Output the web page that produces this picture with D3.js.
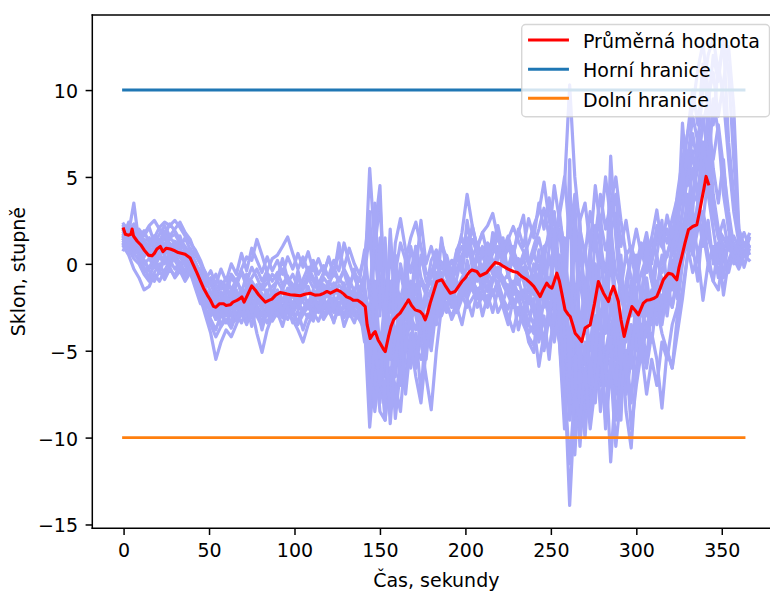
<!DOCTYPE html>
<html>
<head>
<meta charset="utf-8">
<script src="https://cdn.jsdelivr.net/npm/d3@7"></script>
<style>
  html, body { margin: 0; padding: 0; background: #ffffff; }
  svg { display: block; font-family: "DejaVu Sans", sans-serif; }
</style>
</head>
<body>
<div id="chart"></div>
<script>
// Tilt recordings: one value every 3 seconds for each run (degrees)
const sampleStep = 3;

const run01 = [
  1.9, 2.0, 1.4, 1.7, 1.3, 1.0, 1.5, 2.1, 2.4, 2.2,
  2.5, 2.1, 1.6, 1.2, 0.8, 0.2, -0.6, -1.2, -1.8, -1.3,
  -1.6, -0.8, -1.2, -0.4, -1.0, -0.2, -0.8, -1.5, -1.1, -0.6,
  -0.9, -0.3, -1.1, -0.6, -1.4, -0.9, -0.2, -0.8, -1.2, -0.5,
  -0.7, 0.2, -0.4, 1.2, 0.1, -0.8, -1.5, -0.6, 1.8, -2.5,
  -1.0, -3.5, 0.5, -1.2, -2.0, -0.8, -1.5, -2.2, -1.0, -1.8,
  -0.6, 0.4, 0.1, -0.5, -1.0, -0.3, 0.5, 0.9, 0.4, 1.1,
  0.6, 1.2, 0.8, 1.5, 0.9, 1.4, 2.15, 1.3, 0.7, 0.2,
  0.6, -0.4, 0.9, 1.5, 0.3, 2.0, -1.0, 3.5, -2.5, 1.0,
  -1.5, 0.8, 2.2, 1.0, -0.5, 1.8, 2.9, -0.8, -2.0, 0.5,
  -0.5, 0.6, 1.0, 0.2, 1.4, 2.0, 1.2, 2.6, 3.8, 5.2,
  7.5, 9.0, 11.2, 12.7, 10.0, 8.0, 11.5, 9.5, 6.0, 3.0,
  1.2, 0.6, 1.4
];
const run02 = [
  1.5, 1.2, 1.8, 1.3, 1.7, 2.2, 2.5, 2.0, 1.6, 2.3,
  1.9, 1.4, 1.0, 0.6, 0.1, -0.5, -1.2, -0.8, -1.5, -1.0,
  -1.4, -0.6, -1.0, -0.3, 0.4, 0.2, 1.4, 0.5, -0.5, -1.0,
  -0.5, -1.2, -0.7, -1.5, -0.9, -1.3, -0.6, -1.0, -1.6, -0.8,
  -1.2, -0.5, -1.0, -0.3, -0.9, -1.6, -0.8, -1.4, -3.0, 0.8,
  -2.5, -1.0, -2.8, 1.2, 2.6, 0.8, -0.5, 1.0, -0.8, -1.5,
  0.2, 0.8, -0.3, 0.5, -0.6, 0.3, 1.0, 0.5, 1.4, 0.6,
  0.9, 0.3, 1.2, 0.8, 0.2, 0.9, 0.4, -0.2, 0.5, 1.2,
  2.2, 3.0, 4.7, 2.5, 1.2, 3.0, 0.5, -2.0, 1.5, -1.0,
  -3.0, 0.5, 1.5, 2.5, 0.8, 1.9, -0.5, -1.5, 0.6, -0.8,
  -1.6, -0.5, 0.4, -1.0, -2.5, -4.0, -5.0, -6.0, -3.0, -1.5,
  0.5, 1.5, 3.5, 5.0, 7.0, 6.0, 8.0, 5.5, 3.0, 1.0,
  0.5
];
const run03 = [
  1.3, 1.8, 3.5, 1.2, 0.6, 1.0, 0.4, 0.9, 0.5, 1.2,
  0.8, 1.3, 0.9, 0.2, -0.4, -1.1, -1.8, -2.4, -2.0, -2.8,
  -2.2, -2.9, -2.5, -1.8, -2.4, -1.6, -2.0, -2.6, -1.9, -2.4,
  -2.0, -2.5, -1.9, -2.3, -1.6, -2.2, -2.6, -1.9, -2.3, -1.7,
  -1.9, -2.4, -1.8, -2.1, -2.6, -2.0, -2.5, -3.0, -5.5, -2.0,
  -6.0, -3.5, -5.0, -2.5, -3.2, -1.5, -2.5, -1.2, -2.0, -3.5,
  -1.5, -0.6, -1.2, -1.8, -0.8, 0.5, 1.8, 4.0, 2.2, 0.8,
  0.4, -0.2, 0.6, 1.0, 0.3, -0.4, 0.2, -0.6, -0.2, -1.0,
  -1.8, -0.5, -2.2, -0.8, -1.5, 0.5, -3.0, -6.0, -2.0, -7.5,
  -5.0, -8.0, -3.0, -6.5, -2.5, -5.0, -7.5, -4.0, -8.5, -10.6,
  -6.0, -3.5, -5.5, -2.5, -1.5, -3.0, -1.0, -2.5, -0.5, 1.5,
  3.0, 1.0, -1.0, 2.5, 0.5, -1.0, 1.0, -1.8, 0.2, 1.0,
  0.3, 1.2
];
const run04 = [
  1.6, 1.3, 1.1, 0.8, 0.2, -0.3, 0.2, 0.6, 0.1, 0.5,
  1.0, 0.4, 0.8, 0.5, -0.2, -0.8, -1.5, -1.8, -2.8, -2.0,
  -1.5, -2.0, -1.2, -0.5, -1.3, -0.8, -0.3, -1.0, -0.4, 0.3,
  0.5, 1.0, 1.55, 0.6, -0.3, 0.4, -0.5, 0.2, -0.6, -0.1,
  -0.8, -0.2, -1.0, -0.4, -1.2, -0.5, -1.0, 0.8, -2.0, 2.5,
  -1.5, 0.5, -2.0, -0.5, 1.2, 0.2, 1.5, 2.4, 1.0, -0.5,
  -0.8, 0.5, 0.0, -0.6, 0.2, -0.5, 0.4, 1.0, 0.2, -0.3,
  -0.5, 0.4, 0.9, 1.6, 0.5, -0.2, 0.8, 0.0, -0.6, -0.2,
  0.5, 1.5, 0.2, 2.0, 0.8, 2.8, 4.5, 10.3, 5.0, 2.0,
  0.5, 3.0, 1.5, 4.0, 2.0, 3.5, 5.0, 2.5, 0.5, 1.0,
  0.0, 1.2, -0.5, 0.6, 2.0, 1.0, 0.4, 1.8, 0.8, 3.0,
  5.5, 3.5, 4.0, 6.5, 4.5, 3.0, 2.0, 1.5, 0.8, 1.6,
  0.9, 1.8, 1.0
];
const run05 = [
  1.0, 0.5, -0.3, -0.8, -1.5, -1.3, -0.6, -1.0, -0.4, 0.2,
  -0.3, 0.1, -0.6, -0.2, -0.9, -1.8, -2.6, -3.2, -3.8, -2.9,
  -3.4, -2.8, -3.2, -2.5, -3.0, -2.2, -2.8, -3.3, -2.6, -2.9,
  -2.4, -3.0, -2.5, -2.9, -2.2, -2.7, -3.1, -2.4, -2.8, -2.3,
  -2.6, -2.0, -2.4, -2.9, -2.3, -2.8, -3.2, -2.5, -7.0, -4.0,
  -7.5, -5.5, -6.5, -4.5, -3.0, -4.2, -3.5, -4.8, -5.5, -4.0,
  -2.5, -1.5, -2.2, -1.0, -1.8, -0.8, 0.5, 1.2, 2.0, 1.0,
  1.8, 2.2, 2.9, 1.5, 0.6, 1.2, 0.0, -0.5, 0.3, -0.8,
  -1.5, -2.5, -1.0, -3.0, -2.0, -4.0, -6.5, -13.9, -8.0, -5.0,
  -7.0, -4.5, -3.0, -5.5, -2.5, -4.0, -2.0, -5.0, -3.5, -1.5,
  -3.0, -4.5, -2.0, -3.5, -1.0, -2.5, -0.5, -1.5, 0.5, 2.0,
  3.5, 4.0, 5.5, 7.0, 6.5, 5.0
];
const run06 = [
  1.2, 1.0, 0.7, 1.1, 0.9, 0.4, 0.8, 1.2, 0.7, 1.5,
  1.2, 0.5, 0.1, -0.4, -1.2, -2.0, -3.0, -4.0, -5.5, -4.5,
  -3.8, -4.2, -3.5, -2.8, -3.3, -2.5, -3.0, -3.6, -2.8, -3.2,
  -2.6, -3.1, -2.4, -2.9, -3.3, -2.6, -2.1, -2.8, -2.4, -3.0,
  -2.5, -2.1, -2.8, -2.4, -3.0, -2.6, -3.2, -3.8, -6.5, -5.0,
  -8.5, -9.0, -6.0, -8.0, -5.5, -6.5, -4.0, -5.0, -3.5, -4.5,
  -3.0, -2.0, -2.8, -1.5, -2.5, -2.0, -1.2, -1.8, -1.0, -1.5,
  -1.2, -0.5, -1.0, -0.3, -0.8, -1.5, -1.0, -1.8, -3.0, -4.5,
  -5.1, -3.5, -4.5, -2.5, -3.5, -2.0, -5.5, -8.5, -6.0, -9.0,
  -7.5, -6.0, -4.0, -7.0, -5.0, -3.5, -6.5, -8.0, -5.5, -4.0,
  -5.0, -3.5, -4.2, -2.5, -3.0, -1.8, -2.2, -1.0, -0.5, 1.0,
  2.5, 4.0, 6.0, 8.0, 9.5, 11.0, 8.5, 10.5, 12.5, 9.0,
  2.0, 1.0, 1.5
];
const run07 = [
  1.7, 1.5, 1.2, 0.5, 0.0, 0.3, -0.2, 0.4, 0.0, 0.6,
  0.2, -0.3, 0.4, 0.0, -0.8, -1.5, -2.2, -2.8, -2.3, -3.0,
  -2.5, -3.0, -2.2, -2.8, -3.5, -2.6, -4.0, -5.1, -3.8, -3.0,
  -2.2, -1.5, -2.0, -1.3, -1.8, -1.2, -0.8, -1.4, -1.0, -1.6,
  -1.0, -1.4, -0.8, -1.3, -1.8, -2.5, -2.0, -2.8, -4.0, -6.0,
  -5.5, -7.5, -4.0, -8.9, -6.0, -4.5, -3.0, -3.8, -2.5, -3.5,
  -2.0, -0.5, -1.5, -2.5, -3.0, -2.2, -1.5, -0.8, -1.5, -2.0,
  -1.5, -2.2, -1.0, -0.5, -1.2, -1.8, -2.5, -2.0, -1.5, -2.8,
  -3.5, -2.0, -1.0, 0.5, -1.5, 0.0, -4.0, -5.5, -8.0, -4.0,
  -2.5, -5.0, -1.5, 0.5, -2.5, 6.2, 1.5, -2.0, -3.0, -1.0,
  -2.0, -3.0, -1.5, -2.5, -3.5, -2.0, -1.0, 0.0, -1.2, 0.8,
  1.5, 0.5, 2.0, 3.0, 1.5, 0.5, -0.5, 0.8, 1.5, 0.2
];
const run08 = [
  2.2, 1.9, 2.3, 1.8, 1.3, 1.5, 0.9, 1.4, 1.0, 0.7,
  1.1, 0.8, 0.3, 0.7, 0.1, -0.6, -1.3, -1.0, -2.0, -1.6,
  -2.3, -1.8, -2.6, -2.0, -1.6, -2.4, -1.9, -2.5, -2.2, -1.7,
  -2.5, -2.0, -2.8, -3.2, -3.8, -4.5, -3.5, -2.8, -3.3, -2.6,
  -2.2, -2.8, -2.3, -2.0, -2.5, -3.0, -2.6, -3.5, -5.0, -8.0,
  -4.0, -6.5, -3.5, -5.0, -2.5, -3.8, -2.0, -3.0, -4.5, -6.5,
  -8.4, -5.0, -2.5, -1.8, -2.5, -1.2, -2.0, -1.5, -0.8, -1.8,
  -1.0, -1.6, -0.8, -0.2, -1.0, -0.6, -1.4, -0.9, -2.0, -1.5,
  -2.5, -3.5, -2.0, -1.5, -2.8, -1.0, -3.5, -6.0, -4.5, -10.5,
  -6.5, -8.5, -5.0, -3.0, -6.0, -4.5, -3.0, -5.5, -7.0, -4.5,
  -3.5, -2.0, -3.0, -1.5, -2.5, -0.8, -1.5, 0.2, -0.8, 0.5,
  1.0, -0.5, 0.5, -2.1, 0.0, -1.0, -1.5, 0.5, 1.0, 0.3,
  -0.3, 0.5, 0.2
];
const run09 = [
  2.0, 1.7, 2.2, 1.5, 1.9, 1.2, 1.6, 1.1, 1.5, 0.9,
  1.3, 0.9, 1.5, 0.8, 0.5, 0.0, -0.5, -1.2, -0.6, -1.4,
  -0.8, -1.5, -0.9, -1.6, -2.2, -1.5, -2.0, -1.2, -1.8, -2.3,
  -1.6, -2.1, -1.4, -1.9, -1.2, -1.8, -2.3, -1.5, -2.0, -1.2,
  -1.8, -1.1, -1.6, -2.2, -1.4, -2.0, -1.5, -1.0, 5.5, 1.0,
  3.5, -2.0, 0.5, -1.5, -0.5, -2.0, -1.0, -1.8, 0.5, -1.0,
  -0.5, 0.2, -0.8, -1.2, -0.5, -1.5, -0.8, -0.2, -0.6, 0.3,
  -0.2, 0.5, -0.4, 0.8, 0.2, -0.5, 0.4, -0.3, 0.6, 0.0,
  1.0, 2.0, 3.2, 1.5, 4.5, 2.5, 1.0, -3.0, 3.5, -1.5,
  1.0, -2.5, 0.0, -3.5, -1.0, 1.5, -2.0, -4.0, -1.0, 0.5,
  -1.0, 0.8, -0.5, 1.5, 0.3, -0.5, 0.6, 1.5, 2.5, 4.0,
  6.0, 8.5, 7.0, 10.0, 12.0, 13.0, 11.0, 12.8, 7.0, 4.0,
  1.8, 0.4, 1.0
];
const run10 = [
  1.4, 1.1, 0.6, 0.2, -0.5, -0.2, 0.3, -0.3, 0.5, 0.1,
  0.6, 0.0, -0.4, 0.2, -0.6, -1.3, -2.0, -2.6, -3.2, -2.6,
  -3.0, -2.4, -2.9, -2.2, -2.7, -2.0, -2.5, -3.0, -2.4, -2.8,
  -2.0, -2.6, -2.1, -2.7, -2.3, -2.9, -2.4, -2.0, -2.6, -2.2,
  -2.8, -2.3, -2.9, -2.5, -2.0, -2.7, -3.0, -2.5, -3.5, 2.0,
  4.5, -3.0, -1.0, -4.5, -2.0, -3.2, -1.8, -2.5, -3.5, -2.0,
  -1.5, -0.8, 0.0, -0.8, -1.5, -2.2, -1.5, -2.0, -1.2, -2.5,
  -1.8, -2.5, -1.5, -2.8, -2.2, -3.0, -3.9, -2.5, -3.2, -2.0,
  -2.8, -4.0, -2.0, -3.0, -1.5, -2.5, -1.0, -4.5, -2.5, -7.0,
  -4.5, -6.5, -3.5, -8.5, -5.5, -11.4, -7.0, -5.0, -6.5, -3.5,
  -4.5, -2.5, -3.8, -2.0, -3.0, -2.5, -1.5, -0.5, 1.5, 8.1,
  4.5, 6.5, 3.5, 5.5, 8.0, 4.0, 2.0, 1.0
];
const run11 = [
  1.8, 1.4, 1.0, 1.3, 0.8, 1.2, 1.6, 1.3, 1.9, 1.5,
  1.7, 1.2, 0.8, 0.4, -0.2, -0.9, -1.6, -2.3, -3.0, -2.5,
  -2.0, -2.6, -1.8, -2.3, -1.7, -1.0, -1.5, -2.2, -1.6, -1.3,
  -1.0, -1.5, -0.8, -1.2, -1.6, -1.1, -1.5, -2.0, -1.4, -1.9,
  -1.3, -1.8, -1.2, -1.6, -2.2, -1.8, -2.5, -3.5, -9.4, -6.0,
  -8.0, -5.0, -7.5, -5.5, -4.0, -2.5, -3.5, -2.0, -3.0, -1.5,
  -1.0, -2.0, -0.8, -1.5, -2.2, -2.8, -2.0, -1.2, -0.5, -1.0,
  -0.5, 0.2, -0.6, -0.2, -1.0, -1.5, -2.2, -2.8, -3.5, -4.2,
  -4.7, -3.0, -4.5, -2.5, -4.0, -2.0, -3.5, -9.0, -6.5, -4.0,
  -8.5, -5.5, -7.0, -4.0, -9.5, -6.0, -3.5, -7.5, -5.0, -8.0,
  -4.0, -2.0, 0.5, 1.5, 3.1, 1.0, 2.0, 0.5, 1.5, 3.0,
  5.0, 7.5, 5.5, 8.5, 6.0, 3.0, 1.5, 0.5, -0.5, 0.8,
  0.0, 1.2, 0.6
];
const run12 = [
  1.1, 0.8, 0.3, 0.0, -0.6, -1.0, -0.5, 0.0, -0.6, -0.2,
  -0.8, -0.4, -1.0, -0.5, -1.2, -2.0, -2.8, -3.5, -4.2, -3.6,
  -3.2, -3.7, -2.9, -3.4, -2.6, -3.1, -2.4, -2.9, -3.4, -2.7,
  -3.0, -2.5, -3.2, -2.6, -3.5, -2.9, -2.4, -3.0, -2.5, -3.2,
  -2.7, -3.3, -2.6, -3.1, -2.5, -3.0, -2.6, -3.2, -5.0, -7.5,
  -5.5, -9.0, -6.0, -7.0, -8.5, -5.0, -4.5, -6.0, -4.0, -5.0,
  -3.0, -2.0, -3.0, -2.2, -3.2, -2.5, -1.8, -2.5, -2.0, -1.5,
  -2.0, -1.2, -1.8, -1.0, -2.0, -2.6, -1.5, -2.0, -3.0, -4.0,
  -3.5, -5.9, -4.0, -5.0, -3.0, -4.5, -8.0, -5.0, -11.0, -6.0,
  -9.0, -7.0, -5.0, -8.0, -6.5, -4.5, -9.0, -6.0, -7.5, -5.5,
  -6.5, -4.5, -6.0, -4.0, -5.5, -8.3, -5.0, -6.0, -4.0, -2.0,
  0.5, 3.0, 2.0, 5.5, 4.0, 2.0, 0.0
];
const run13 = [
  1.6, 2.4, 1.1, 1.5, 0.4, 0.9, 1.3, 0.7, 1.8, 1.0,
  0.3, 1.0, 0.2, -0.3, -1.0, -1.6, -2.5, -1.8, -3.2, -2.2,
  -1.2, -2.0, -0.9, -1.7, -0.6, -1.4, -2.3, -1.3, -0.7, -1.9,
  -0.8, 0.3, -0.9, -1.8, -0.4, -1.5, -0.9, 0.0, -1.3, -0.6,
  0.4, -0.7, 1.2, -0.5, -1.5, -0.3, -2.0, -1.0, -6.5, 3.5,
  -3.0, 1.5, -4.5, -1.0, -6.0, 0.5, -2.5, 1.0, -4.0, -1.5,
  -4.5, -2.0, 1.5, -0.5, -1.2, 0.8, -0.4, 2.5, 0.5, -0.8,
  1.0, -0.5, 1.8, 0.2, 1.5, -0.8, 0.5, 1.8, 2.8, 0.0,
  -1.0, 0.8, -2.5, 1.0, 3.0, -0.5, -5.5, 6.0, -9.5, 2.5,
  -4.0, 1.0, -6.5, 2.0, -3.0, 3.5, -5.5, 0.5, -4.5, -2.0,
  0.5, -2.5, 1.5, -1.0, 0.5, 2.5, -2.0, 1.0, 3.0, 4.5,
  6.5, 3.0, 7.5, 5.0, 9.0, 5.5, 3.5, 6.0, 2.0, 0.0,
  1.5, -0.2, 0.8
];
const run14 = [
  2.1, 1.6, 1.9, 1.0, 1.4, 0.6, 0.1, 0.7, 1.2, 0.4,
  0.9, 1.6, 0.7, 0.9, 0.0, -0.4, -1.0, -1.6, -2.1, -1.7,
  -2.6, -1.6, -2.3, -1.4, -2.0, -1.1, -2.2, -1.7, -2.7, -1.5,
  -2.2, -1.4, -2.5, -1.7, -2.6, -2.0, -1.3, -2.4, -1.6, -2.6,
  -2.1, -1.2, -1.9, -1.1, -2.3, -1.4, -2.8, -1.5, -4.5, -8.5,
  -6.0, -3.0, -8.0, -4.0, -7.0, -3.5, -6.0, -4.0, -7.5, -3.5,
  -5.0, -2.5, -0.5, -2.0, -0.8, -2.5, -1.6, 0.2, -1.0, 0.8,
  -1.2, 0.5, -0.3, -1.5, 0.8, -0.5, -1.8, 0.3, -1.0, -2.2,
  -0.8, -2.8, 0.5, -3.5, 1.0, -2.0, 1.5, -8.0, -3.0, -6.0,
  -2.0, -7.5, -1.0, -3.5, -7.0, -2.0, -4.5, -9.0, -2.5, -6.0,
  -1.5, -4.5, -0.8, -3.0, 0.5, -1.0, -3.0, -0.5, -2.0, 0.5,
  4.0, 2.0, 3.0, 1.0, 2.5, 0.0, 1.2, -0.8, 1.5, 0.5,
  1.0, 0.0
];
const run15 = [
  1.4, 0.9, 1.3, 0.4, -0.2, -0.8, 0.0, -0.5, 0.3, -0.2,
  0.5, -0.2, 0.3, -0.5, -1.4, -2.3, -1.8, -3.0, -2.5, -3.6,
  -2.7, -3.5, -2.0, -3.0, -2.3, -3.6, -2.5, -3.8, -2.6, -3.3,
  -2.8, -3.6, -2.5, -3.4, -2.7, -3.8, -2.9, -3.3, -2.2, -3.0,
  -2.4, -3.4, -2.2, -3.6, -2.8, -3.4, -2.5, -4.5, -3.0, -7.0,
  -4.5, -8.0, -3.5, -6.5, -2.0, -5.0, -2.5, -6.0, -3.0, -4.5,
  -2.0, -3.5, -1.5, -2.8, -1.0, -2.5, -3.5, -2.0, -3.0, -1.5,
  -3.0, -1.8, -2.8, -1.5, -2.5, -3.5, -2.0, -3.8, -2.5, -3.5,
  -2.0, -4.5, -3.0, -5.5, -2.5, -4.5, -9.5, -4.0, -10.0, -7.0,
  -10.0, -5.5, -8.0, -4.5, -9.0, -6.0, -10.5, -7.5, -5.0, -9.5,
  -7.0, -5.0, -7.5, -5.5, -7.0, -4.5, -5.5, -3.5, -2.5, 0.0,
  2.0, 1.0, 3.5, 2.5, 5.0, 3.0, 1.5, 2.5, 0.8, 1.2,
  0.6
];
const run16 = [
  2.3, 1.9, 1.6, 2.0, 1.6, 2.1, 1.2, 1.7, 2.2, 1.6,
  2.0, 2.4, 1.8, 1.4, 0.6, 0.0, -0.9, -0.4, -1.2, -0.3,
  -1.0, 0.0, -0.6, 0.6, -0.4, 0.9, 0.2, -0.5, 0.4, -0.4,
  0.2, -0.6, 0.4, -0.3, 0.6, -0.2, 0.7, -0.4, 0.3, -0.5,
  0.3, -0.5, 0.6, -0.2, 0.9, 0.0, -0.6, 0.4, 3.0, -4.0,
  1.5, -4.5, 2.0, -2.5, 0.0, -1.5, 1.0, -0.5, 2.5, 0.0,
  1.0, -0.2, 1.2, 0.3, -0.5, 0.8, 1.5, 0.4, 2.2, 0.9,
  1.8, 0.5, 1.2, 2.2, 0.8, 1.6, 0.5, 2.0, 1.0, 2.6,
  1.5, 3.5, 2.0, 3.8, 1.0, 3.0, 5.0, 1.5, 4.0, 2.5,
  3.5, 1.0, 4.5, 2.0, 5.0, 2.5, 4.0, 1.0, 2.5, 0.5,
  2.0, 0.5, 1.8, 0.0, 2.2, 1.0, 2.8, 1.5, 4.0, 6.0,
  7.5, 10.0, 8.0, 11.5, 9.0, 12.0, 10.5, 13.0, 11.0, 6.0,
  2.0, 1.0, 1.7
];
const run17 = [
  0.8, 1.3, 0.5, 0.9, 0.2, -0.4, -1.0, -0.4, -0.9, -0.3,
  -0.7, 0.0, -0.8, -0.2, -1.0, -1.7, -2.4, -2.0, -2.9, -2.2,
  -2.8, -2.0, -3.3, -2.5, -2.0, -2.8, -1.8, -2.6, -3.0, -2.1,
  -1.5, -2.2, -1.8, -2.5, -2.0, -1.6, -2.4, -1.8, -2.7, -2.0,
  -2.5, -1.9, -2.4, -1.8, -2.6, -2.2, -2.8, -2.2, -8.0, -4.5,
  -7.0, -4.0, -9.2, -5.5, -3.5, -7.5, -4.5, -6.5, -8.0, -5.0,
  -3.5, -1.8, -2.5, -1.2, -2.0, -1.0, -1.8, -0.8, -1.5, -0.6,
  -1.5, -0.8, -1.8, -1.0, -2.2, -1.2, -2.5, -1.6, -2.2, -3.5,
  -4.0, -2.5, -5.0, -3.0, -4.5, -2.5, -7.0, -11.5, -7.5, -9.0,
  -6.0, -9.5, -7.0, -5.0, -8.5, -5.5, -7.0, -4.0, -6.5, -5.0,
  -3.0, -5.5, -3.5, -4.5, -2.0, -3.5, -1.5, -2.5, -1.0, 0.5,
  1.2, 2.5, 0.5, 1.8, 0.0, 1.0, -0.8, 0.5, 1.0, 0.4
];
const run18 = [
  1.9, 1.2, 0.8, 1.6, 1.1, 0.6, 1.0, 0.5, 1.1, 0.3,
  0.9, 0.4, -0.1, 0.5, -0.3, -1.0, -1.5, -2.0, -1.6, -2.4,
  -1.8, -2.6, -1.5, -2.2, -1.3, -2.0, -1.2, -2.3, -1.5, -2.6,
  -1.8, -2.8, -2.0, -1.4, -2.3, -1.6, -2.5, -1.9, -1.4, -2.1,
  -1.6, -2.6, -1.8, -2.5, -1.6, -2.4, -1.7, -2.2, -6.0, -1.0,
  -5.0, -2.0, -5.5, 0.5, -3.5, -1.5, -3.0, 0.0, -2.0, -5.5,
  -2.5, 0.5, -1.0, 0.2, -1.0, 0.5, -0.5, 1.5, -0.2, 0.5,
  -0.5, 1.0, 0.2, -0.8, 0.5, -0.5, 1.0, -1.2, -0.4, -1.5,
  0.0, -1.5, 1.0, -2.0, 2.0, -3.5, 0.5, -6.5, 2.5, -4.0,
  -1.0, -3.5, 2.0, -1.5, -4.0, 0.5, -3.0, -6.0, -1.5, -3.0,
  -0.5, -2.0, 1.0, -0.5, -1.5, 0.5, -1.0, 1.0, 2.0, 5.5,
  3.0, 5.5, 4.0, 7.0, 5.0, 9.5, 7.5, 4.0, 2.0
];
const runs = [run01, run02, run03, run04, run05, run06, run07, run08, run09,
  run10, run11, run12, run13, run14, run15, run16, run17, run18];

// Average tilt over all runs
const meanTime = [
  0, 1, 3, 4.3, 5, 5.8, 8, 10, 12, 14.6, 16.6, 18, 19.5, 21.5, 23, 25, 27.3, 30, 32, 36,
  39, 41, 43, 45, 46.8, 49, 50.7, 52.6, 54, 56, 58.5, 60, 62.4, 64, 66.3, 68, 69.2, 70.5, 72, 75,
  77, 79, 81, 82.9, 85, 86.8, 89, 91.6, 94, 97.5, 100, 103.4, 106, 109.2, 112, 115, 117, 119, 121, 124.8,
  127, 128.7, 130.5, 132.6, 134.5, 137, 139.4, 141.4, 142.5, 144.3, 146.2, 147.2, 149, 150.1, 152, 153.1, 155, 156.5, 158, 160,
  161.8, 164, 166.7, 168.5, 170.6, 173.5, 175, 176.5, 178, 179.4, 181.5, 183.3, 186.2, 188.5, 191.1, 194, 196, 197.9, 200, 202,
  203.8, 206.7, 208.6, 210.5, 212.5, 215, 217.4, 220, 222.3, 225, 228.1, 230.5, 233, 236, 238, 240, 242, 243.7, 245.5, 247.6,
  249, 250.6, 252, 253.5, 255, 256.4, 258.3, 260, 261.3, 262.8, 264.2, 266, 268.1, 270, 271.5, 273, 275.5, 277.8, 279.5, 280.8,
  283.7, 285, 286.6, 288, 289.5, 291, 292.9, 295, 297.4, 299.5, 301.2, 304.1, 306, 308, 310, 312, 314, 315.8, 318.8, 321,
  323.7, 325, 326.6, 328.5, 330.5, 333, 335.4, 337, 338.3, 339.5, 340.8, 342.2
];
const meanValue = [
  2.0, 1.7, 1.65, 1.7, 2.0, 1.6, 1.3, 1.1, 0.8, 0.5, 0.46, 0.6, 0.85, 1.0, 0.7, 0.9, 0.85, 0.75, 0.65, 0.55,
  0.33, -0.1, -0.54, -1.0, -1.4, -1.8, -2.07, -2.45, -2.5, -2.3, -2.3, -2.4, -2.36, -2.2, -2.1, -2.0, -1.9, -2.2, -1.9, -1.27,
  -1.5, -1.78, -2.0, -2.2, -2.1, -2.03, -1.8, -1.65, -1.7, -1.78, -1.8, -1.84, -1.75, -1.69, -1.8, -1.78, -1.7, -1.59, -1.69, -1.5,
  -1.6, -1.73, -1.9, -1.98, -2.1, -2.1, -2.26, -2.46, -3.5, -4.3, -4.0, -3.9, -4.4, -4.57, -4.9, -5.05, -4.18, -3.6, -3.22, -3.0,
  -2.84, -2.5, -2.07, -2.4, -2.65, -2.74, -2.9, -3.22, -2.8, -2.26, -1.6, -1.02, -0.92, -1.3, -1.69, -1.59, -1.3, -1.02, -0.8, -0.5,
  -0.35, -0.44, -0.69, -0.6, -0.5, -0.2, 0.08, 0.0, -0.15, -0.3, -0.44, -0.5, -0.73, -0.92, -1.1, -1.3, -1.6, -1.88, -1.5, -1.11,
  -1.3, -1.4, -1.0, -0.54, -1.0, -1.69, -2.65, -2.9, -3.03, -3.5, -3.99, -4.2, -4.47, -3.7, -3.6, -3.51, -2.3, -1.02, -1.4, -1.69,
  -2.17, -1.7, -1.3, -1.7, -2.17, -3.2, -4.18, -3.3, -2.46, -2.7, -2.94, -2.26, -2.1, -2.07, -2.0, -1.88, -1.4, -0.92, -0.54, -0.6,
  -0.92, -0.2, 0.42, 1.2, 1.96, 2.15, 2.25, 3.0, 3.68, 4.3, 5.03, 4.6
];

// Limits
const upperLimit = 10;
const lowerLimit = -10;
const limitSpan = [0, 363];

const xTicks = [0, 50, 100, 150, 200, 250, 300, 350];
const yTicks = [-15, -10, -5, 0, 5, 10];
const xLabel = "Čas, sekundy";
const yLabel = "Sklon, stupně";
const legendLabels = ["Průměrná hodnota", "Horní hranice", "Dolní hranice"];

// ---- drawing ----
const width = 770, height = 591;
const plot = { left: 92.3, right: 780.4, top: 15, bottom: 528.3 };
const fontSize = 19;
const runColor = "#a6a8f7";
const meanColor = "#ff0000";
const upperColor = "#1f77b4";
const lowerColor = "#ff7f0e";
const lineWidth = 2.9;
const runWidth = 3.2;

const x = d3.scaleLinear().domain([-18.3, 384.3]).range([plot.left, plot.right]);
const y = d3.scaleLinear().domain([-15.22, 14.32]).range([plot.bottom, plot.top]);

const svg = d3.select("#chart").append("svg")
  .attr("width", width).attr("height", height)
  .attr("viewBox", `0 0 ${width} ${height}`);

svg.append("rect").attr("width", width).attr("height", height).attr("fill", "#ffffff");

svg.append("defs").append("clipPath").attr("id", "plotClip")
  .append("rect")
  .attr("x", plot.left).attr("y", plot.top)
  .attr("width", plot.right - plot.left).attr("height", plot.bottom - plot.top);

const area = svg.append("g").attr("clip-path", "url(#plotClip)");

const runLine = d3.line()
  .x((d, i) => x(i * sampleStep))
  .y(d => y(d));

area.selectAll("path.run").data(runs).join("path")
  .attr("class", "run")
  .attr("d", runLine)
  .attr("fill", "none")
  .attr("stroke", runColor)
  .attr("stroke-width", runWidth)
  .attr("stroke-linejoin", "round")
  .attr("stroke-linecap", "square");

const pointLine = d3.line()
  .x(d => x(d[0]))
  .y(d => y(d[1]));

area.append("path")
  .datum(meanTime.map((t, i) => [t, meanValue[i]]))
  .attr("d", pointLine)
  .attr("fill", "none")
  .attr("stroke", meanColor)
  .attr("stroke-width", 3.1)
  .attr("stroke-linejoin", "round")
  .attr("stroke-linecap", "square");

[[upperLimit, upperColor], [lowerLimit, lowerColor]].forEach(([v, c]) => {
  area.append("path")
    .datum(limitSpan.map(t => [t, v]))
    .attr("d", pointLine)
    .attr("fill", "none")
    .attr("stroke", c)
    .attr("stroke-width", lineWidth)
    .attr("stroke-linecap", "square");
});

// Axes
const tickLen = 6.7;
const xAxis = d3.axisBottom(x).tickValues(xTicks).tickSize(tickLen).tickPadding(8.8)
  .tickFormat(d3.format("d"));
const gx = svg.append("g").attr("transform", `translate(0,${plot.bottom})`).call(xAxis);
gx.select(".domain").remove();
gx.selectAll(".tick line").attr("stroke", "#000").attr("stroke-width", 1.5);
gx.selectAll(".tick text").attr("font-size", fontSize).attr("fill", "#000")
  .attr("font-family", "DejaVu Sans");

const minus = v => (v < 0 ? "\u2212" + Math.abs(v) : String(v));
const yAxis = d3.axisLeft(y).tickValues(yTicks).tickSize(tickLen).tickPadding(7.6)
  .tickFormat(minus);
const gy = svg.append("g").attr("transform", `translate(${plot.left},0)`).call(yAxis);
gy.select(".domain").remove();
gy.selectAll(".tick line").attr("stroke", "#000").attr("stroke-width", 1.5);
gy.selectAll(".tick text").attr("font-size", fontSize).attr("fill", "#000")
  .attr("dy", "0.39em").attr("font-family", "DejaVu Sans");

// Spines
const spine = svg.append("g").attr("stroke", "#000").attr("stroke-width", 1.5)
  .attr("stroke-linecap", "square");
spine.append("line").attr("x1", plot.left).attr("x2", plot.left).attr("y1", plot.top).attr("y2", plot.bottom);
spine.append("line").attr("x1", plot.left).attr("x2", plot.right).attr("y1", plot.top).attr("y2", plot.top);
spine.append("line").attr("x1", plot.left).attr("x2", plot.right).attr("y1", plot.bottom).attr("y2", plot.bottom);
spine.append("line").attr("x1", plot.right).attr("x2", plot.right).attr("y1", plot.top).attr("y2", plot.bottom);

// Axis titles
svg.append("text")
  .attr("x", (plot.left + plot.right) / 2).attr("y", 587)
  .attr("text-anchor", "middle").attr("font-size", fontSize).attr("fill", "#000")
  .text(xLabel);
svg.append("text")
  .attr("transform", `translate(25,${(plot.top + plot.bottom) / 2}) rotate(-90)`)
  .attr("text-anchor", "middle").attr("font-size", fontSize).attr("fill", "#000")
  .text(yLabel);

// Legend
const legend = svg.append("g");
const lg = { x0: 521.7, x1: 769.5, y0: 24.5, y1: 116.7 };
legend.append("rect")
  .attr("x", lg.x0).attr("y", lg.y0)
  .attr("width", lg.x1 - lg.x0).attr("height", lg.y1 - lg.y0)
  .attr("rx", 4).attr("ry", 4)
  .attr("fill", "#ffffff").attr("fill-opacity", 0.8)
  .attr("stroke", "#cccccc").attr("stroke-opacity", 0.8).attr("stroke-width", 1.4);
const legendColors = [meanColor, upperColor, lowerColor];
const rowY = [40, 69.2, 98.3];
legendLabels.forEach((label, i) => {
  legend.append("line")
    .attr("x1", 529.5).attr("x2", 567.5)
    .attr("y1", rowY[i]).attr("y2", rowY[i])
    .attr("stroke", legendColors[i]).attr("stroke-width", lineWidth)
    .attr("stroke-linecap", "square");
  legend.append("text")
    .attr("x", 583).attr("y", rowY[i] + 8.2)
    .attr("font-size", fontSize).attr("fill", "#000")
    .text(label);
});
</script>
</body>
</html>
